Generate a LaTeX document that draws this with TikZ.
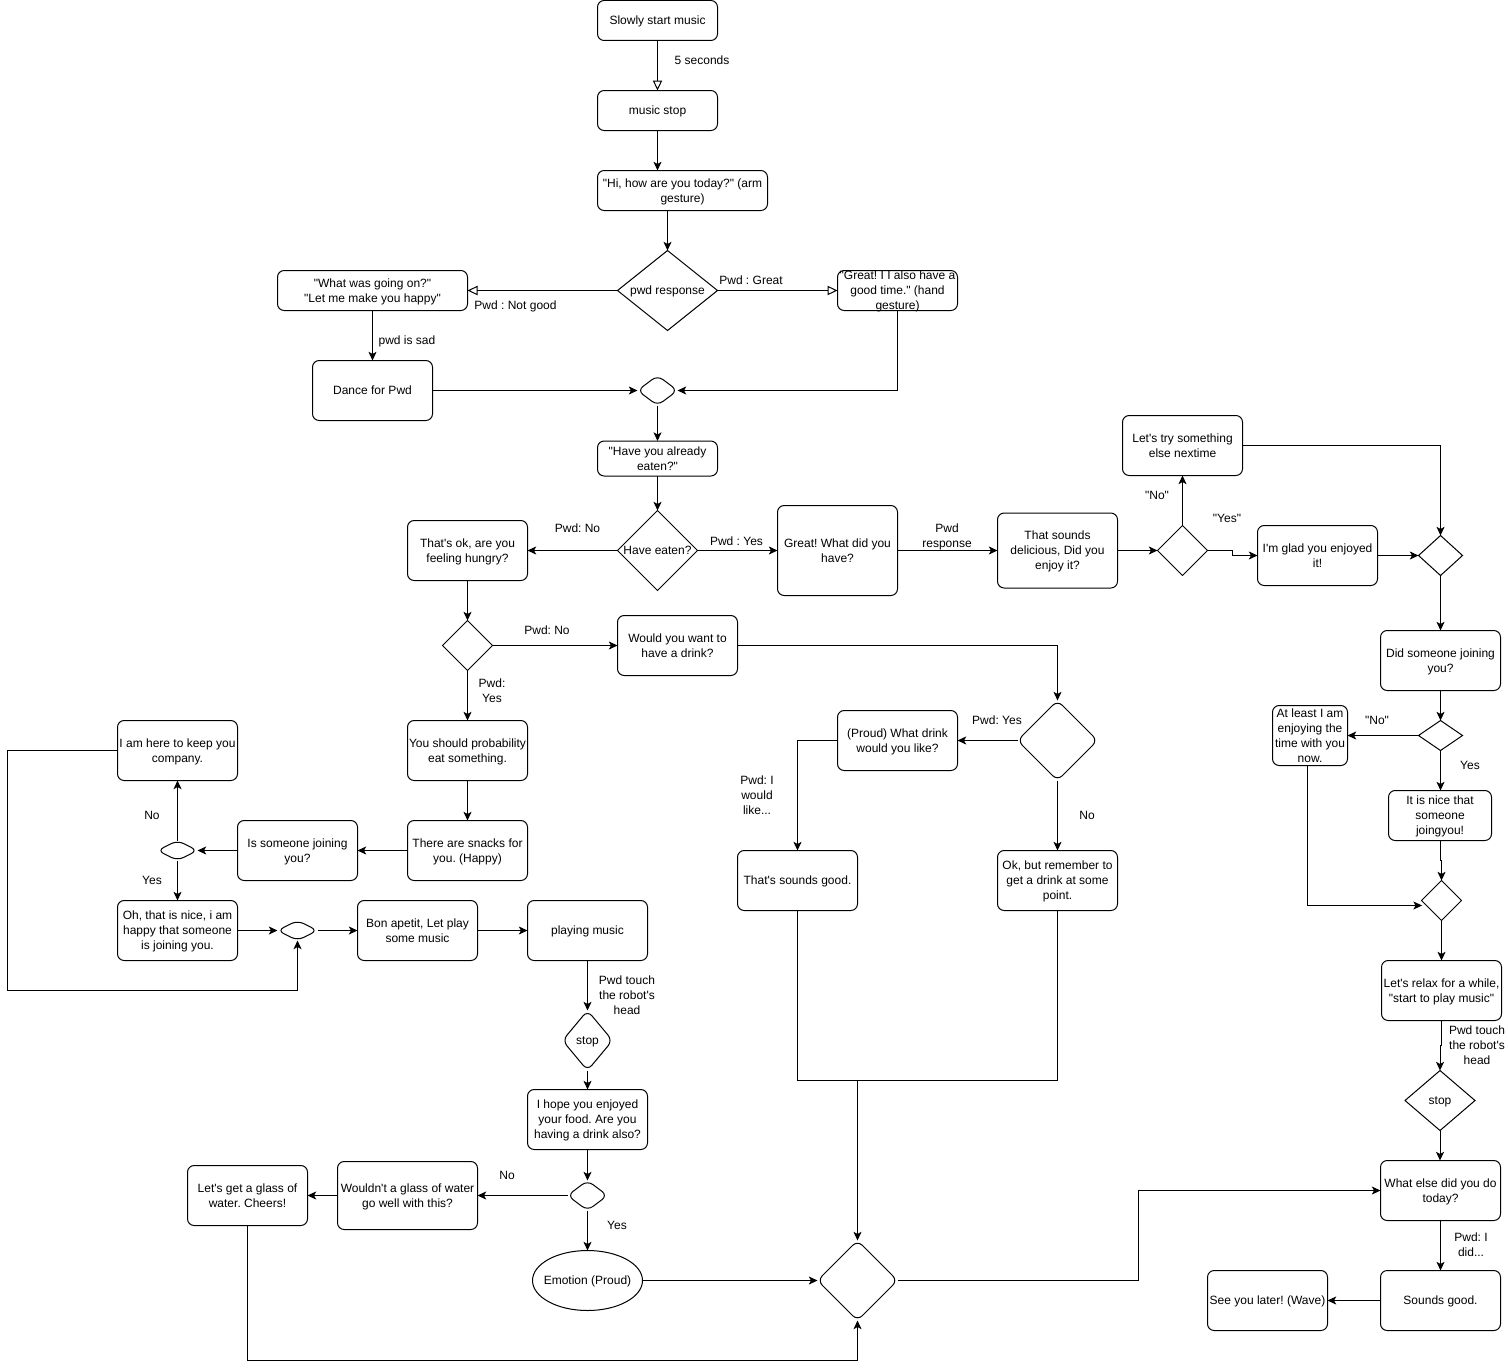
\documentclass[tikz,border=0pt]{standalone}
\usepackage{fontspec}
\newfontfamily\flowfont{Liberation Sans}
\usepackage{tikz}
\usetikzlibrary{arrows.meta,shapes.geometric}

\newcommand{\flowtext}[1]{\raisebox{-3pt}[0pt][0pt]{\makebox[0pt]{\begin{tabular}[c]{@{}c@{}}#1\end{tabular}}}}

\tikzset{
	every node/.style={font=\flowfont\frenchspacing\fontsize{9}{11.25}\selectfont, inner sep=0pt, outer sep=0pt},
	flowbox/.style 2 args={draw, rounded corners=5pt, minimum width=#1*0.75pt, minimum height=#2*0.75pt},
	choice/.style 2 args={draw, diamond, minimum width=#1*0.75pt, minimum height=#2*0.75pt},
	softchoice/.style 2 args={choice={#1}{#2}, rounded corners=5pt},
	roundbox/.style 2 args={draw, ellipse, minimum width=#1*0.75pt, minimum height=#2*0.75pt},
	flow/.style={draw, line width=0.75pt, -{Stealth[length=6.5pt,width=6pt,inset=1.6pt]}},
	openflow/.style={draw, line width=0.75pt, -{Triangle[open,length=7.5pt,width=7pt]}},
	plainflow/.style={draw, line width=0.75pt},
}

\begin{document}
\begin{tikzpicture}[x=0.75pt, y=-0.75pt, line width=0.75pt]
	\useasboundingbox (0,0) rectangle (1508,1370);
	% greeting
	\node[flowbox={120}{40}] (start) at (657.5,20.5) {\flowtext{Slowly start music}};
	\node[flowbox={120}{40}] (musicstop) at (657.5,110.5) {\flowtext{music stop}};
	\node[flowbox={170}{40}] (hello) at (682.5,190.5) {\flowtext{"Hi, how are you today?" (arm\\gesture)}};
	\node[choice={100}{80}] (response) at (667.5,290.5) {\flowtext{pwd response}};
	\node[flowbox={190}{40}] (sad) at (372.5,290.5) {\flowtext{"What was going on?"\\"Let me make you happy"}};
	\node[flowbox={120}{40}] (great) at (897.5,290.5) {\flowtext{"Great! I I also have a\\good time." (hand\\gesture)}};
	\node[flowbox={120}{60}] (dance) at (372.5,390.5) {\flowtext{Dance for Pwd}};
	\node[softchoice={40}{30}] (mergeA) at (657.5,390.5) {};
	% eating
	\node[flowbox={120}{35}] (eaten) at (657.5,458.5) {\flowtext{"Have you already\\eaten?"}};
	\node[choice={80}{80}] (haveeaten) at (657.5,550.5) {\flowtext{Have eaten?}};
	\node[flowbox={120}{60}] (hungry) at (467.5,550.5) {\flowtext{That's ok, are you\\feeling hungry?}};
	\node[flowbox={120}{90}] (whatdid) at (837.5,550.5) {\flowtext{Great! What did you\\have?}};
	\node[flowbox={120}{75}] (delicious) at (1057.5,550.5) {\flowtext{That sounds\\delicious, Did you\\enjoy it?}};
	\node[choice={50}{50}] (enjoy) at (1182.5,550.5) {};
	\node[flowbox={120}{60}] (nexttime) at (1182.5,445.5) {\flowtext{Let's try something\\else nextime}};
	\node[flowbox={120}{60}] (glad) at (1317.5,555.5) {\flowtext{I'm glad you enjoyed\\it!}};
	\node[choice={44}{40}] (mergeB) at (1440.5,555.5) {};
	% company on the right
	\node[flowbox={120}{60}] (joining) at (1440.5,660.5) {\flowtext{Did someone joining\\you?}};
	\node[choice={44}{30}] (someone) at (1440.5,735.5) {};
	\node[flowbox={75}{60}] (atleast) at (1310,735.5) {\flowtext{At least I am\\enjoying the\\time with you\\now.}};
	\node[flowbox={103}{50}] (nicethat) at (1440,815.5) {\flowtext{It is nice that\\someone\\joingyou!}};
	\node[choice={40}{40}] (mergeC) at (1441.5,900.5) {};
	\node[flowbox={120}{60}] (relax) at (1441.5,990.5) {\flowtext{Let's relax for a while,\\"start to play music"}};
	\node[choice={70}{60}] (stopB) at (1440,1100.5) {\flowtext{stop}};
	\node[flowbox={120}{60}] (whatelse) at (1440.5,1190.5) {\flowtext{What else did you do\\today?}};
	\node[flowbox={120}{60}] (sounds) at (1440.5,1300.5) {\flowtext{Sounds good.}};
	\node[flowbox={120}{60}] (seeyou) at (1267.5,1300.5) {\flowtext{See you later! (Wave)}};
	% food on the left
	\node[choice={50}{50}] (wanteat) at (467.5,645.5) {};
	\node[flowbox={120}{60}] (drink) at (677.5,645.5) {\flowtext{Would you want to\\have a drink?}};
	\node[flowbox={120}{60}] (probably) at (467.5,750.5) {\flowtext{You should probability\\eat something.}};
	\node[flowbox={120}{60}] (snacks) at (467.5,850.5) {\flowtext{There are snacks for\\you. (Happy)}};
	\node[flowbox={120}{60}] (isjoining) at (297.5,850.5) {\flowtext{Is someone joining\\you?}};
	\node[flowbox={120}{60}] (keep) at (177.5,750.5) {\flowtext{I am here to keep you\\company.}};
	\node[softchoice={40}{20}] (company) at (177.5,850.5) {};
	\node[flowbox={120}{60}] (ohnice) at (177.5,930.5) {\flowtext{Oh, that is nice, i am\\happy that someone\\is joining you.}};
	\node[softchoice={40}{20}] (mergeD) at (297.5,930.5) {};
	\node[flowbox={120}{60}] (bonapetit) at (417.5,930.5) {\flowtext{Bon apetit, Let play\\some music}};
	\node[flowbox={120}{60}] (playing) at (587.5,930.5) {\flowtext{playing music}};
	\node[softchoice={50}{60}] (stopA) at (587.5,1040.5) {\flowtext{stop}};
	\node[flowbox={120}{60}] (hope) at (587.5,1119.5) {\flowtext{I hope you enjoyed\\your food. Are you\\having a drink also?}};
	\node[softchoice={40}{30}] (alsodrink) at (587.5,1195.5) {};
	\node[flowbox={140}{68}] (wouldnt) at (407.5,1195.5) {\flowtext{Wouldn't a glass of water\\go well with this?}};
	\node[flowbox={120}{60}] (glass) at (247.5,1195.5) {\flowtext{Let's get a glass of\\water. Cheers!}};
	\node[roundbox={110}{60}] (proudface) at (587.5,1280.5) {\flowtext{Emotion (Proud)}};
	\node[softchoice={80}{80}] (mergeE) at (857.5,1280.5) {};
	% drink in the middle
	\node[softchoice={80}{80}] (wantdrink) at (1057.5,740.5) {};
	\node[flowbox={120}{60}] (proud) at (897.5,740.5) {\flowtext{(Proud) What drink\\would you like?}};
	\node[flowbox={120}{60}] (thats) at (797.5,880.5) {\flowtext{That's sounds good.}};
	\node[flowbox={120}{60}] (okbut) at (1057.5,880.5) {\flowtext{Ok, but remember to\\get a drink at some\\point.}};
	% bends
	\coordinate (loopcorner) at (7.5,990.5);
	\coordinate (bottomrun) at (500,1360.5);
	\coordinate (drinkjoin) at (857.5,1080.5);
	\coordinate (rightrun) at (1138.5,1235);
	\coordinate (enjoybend) at (1232.5,553);
	\coordinate (nicebend) at (1440.5,860.5);
	\coordinate (relaxbend) at (1441.5,1045.5);
	% connectors
	\draw[openflow] (start) -- (musicstop);
	\draw[flow] (musicstop) -- (musicstop |- hello.north);
	\draw[flow] (response.north |- hello.south) -- (response.north);
	\draw[openflow] (response.west) -- (sad.east);
	\draw[openflow] (response.east) -- (great.west);
	\draw[flow] (sad) -- (dance);
	\draw[flow] (great.south) |- (mergeA.east);
	\draw[flow] (dance.east) -- (mergeA.west);
	\draw[flow] (mergeA.south) -- (eaten.north);
	\draw[flow] (eaten.south) -- (haveeaten.north);
	\draw[flow] (haveeaten.west) -- (hungry.east);
	\draw[flow] (haveeaten.east) -- (whatdid.west);
	\draw[flow] (whatdid.east) -- (delicious.west);
	\draw[flow] (delicious.east) -- (enjoy.west);
	\draw[flow] (enjoy.north) -- (nexttime.south);
	\draw[flow] (enjoy.east) -| (enjoybend) |- (glad.west);
	\draw[flow] (nexttime.east) -| (mergeB.north);
	\draw[flow] (glad.east) -- (mergeB.west);
	\draw[flow] (mergeB.south) -- (joining.north);
	\draw[flow] (joining.south) -- (someone.north);
	\draw[flow] (someone.west) -- (atleast.east);
	\draw[flow] (someone.south) -- (someone.south |- nicethat.north);
	\draw[flow] (nicebend |- nicethat.south) -- (nicebend) -| (mergeC.north);
	\draw[flow] ([xshift=-1.9pt]atleast.south) |- ([xshift=0.4pt,yshift=-3.75pt]mergeC.west);
	\draw[flow] (mergeC.south) -- (relax.north);
	\draw[flow] (relax.south) -- (relaxbend) -| (stopB.north);
	\draw[flow] (stopB.south) -- (stopB.south |- whatelse.north);
	\draw[flow] (whatelse.south) -- (sounds.north);
	\draw[flow] (sounds.west) -- (seeyou.east);
	\draw[flow] (hungry.south) -- (wanteat.north);
	\draw[flow] (wanteat.east) -- (drink.west);
	\draw[flow] (wanteat.south) -- (probably.north);
	\draw[flow] (probably.south) -- (snacks.north);
	\draw[flow] (snacks.west) -- (isjoining.east);
	\draw[flow] (isjoining.west) -- (company.east);
	\draw[flow] (company.north) -- (keep.south);
	\draw[flow] (company.south) -- (ohnice.north);
	\draw[flow] (ohnice.east) -- (mergeD.west);
	\draw[flow] (mergeD.east) -- (bonapetit.west);
	\draw[flow] (keep.west) -| (loopcorner) -| (mergeD.south);
	\draw[flow] (bonapetit.east) -- (playing.west);
	\draw[flow] (playing.south) -- (stopA.north);
	\draw[flow] (stopA.south) -- (hope.north);
	\draw[flow] (hope.south) -- (alsodrink.north);
	\draw[flow] (alsodrink.west) -- (wouldnt.east);
	\draw[flow] (wouldnt.west) -- (glass.east);
	\draw[flow] (alsodrink.south) -- (proudface.north);
	\draw[flow] (proudface.east) -- (mergeE.west);
	\draw[flow] (glass.south) |- (bottomrun) -| (mergeE.south);
	\draw[flow] (drink.east) -| (wantdrink.north);
	\draw[flow] (wantdrink.west) -- (proud.east);
	\draw[flow] (wantdrink.south) -- (okbut.north);
	\draw[flow] (proud.west) -| (thats.north);
	\draw[plainflow] (thats.south) |- (drinkjoin);
	\draw[plainflow] (okbut.south) |- (drinkjoin);
	\draw[flow] (drinkjoin) -- (mergeE.north);
	\draw[flow] (mergeE.east) -| (rightrun) |- (whatelse.west);
	% labels
	\node (lblfive) at (702,60.5) {\flowtext{5 seconds}};
	\node (lblgreat) at (751,280) {\flowtext{Pwd : Great}};
	\node (lblnotgood) at (515.5,305) {\flowtext{Pwd : Not good}};
	\node (lblsad) at (407,340) {\flowtext{pwd is sad}};
	\node (lblateno) at (577.5,528) {\flowtext{Pwd: No}};
	\node (lblateyes) at (736.5,541) {\flowtext{Pwd : Yes}};
	\node (lblanswer) at (947,536) {\flowtext{Pwd\\response}};
	\node (lbltryno) at (1157,495) {\flowtext{"No"}};
	\node (lbltryyes) at (1227,518) {\flowtext{"Yes"}};
	\node (lblhungryno) at (547,630) {\flowtext{Pwd: No}};
	\node (lblhungryyes) at (492,691) {\flowtext{Pwd:\\Yes}};
	\node (lbldrinkyes) at (997,720) {\flowtext{Pwd: Yes}};
	\node (lblwould) at (757,795) {\flowtext{Pwd: I\\would\\like...}};
	\node (lbldrinkno) at (1087,815) {\flowtext{No}};
	\node (lblsomeno) at (1377,720) {\flowtext{"No"}};
	\node (lblsomeyes) at (1470,765) {\flowtext{Yes}};
	\node (lblcompanyno) at (152,815) {\flowtext{No}};
	\node (lblcompanyyes) at (152,880) {\flowtext{Yes}};
	\node (lbltouchA) at (627,995) {\flowtext{Pwd touch\\the robot's\\head}};
	\node (lbltouchB) at (1477,1045) {\flowtext{Pwd touch\\the robot's\\head}};
	\node (lblwaterno) at (507,1175) {\flowtext{No}};
	\node (lblwateryes) at (617,1225) {\flowtext{Yes}};
	\node (lbldid) at (1471,1245) {\flowtext{Pwd: I\\did...}};
\end{tikzpicture}
\end{document}
